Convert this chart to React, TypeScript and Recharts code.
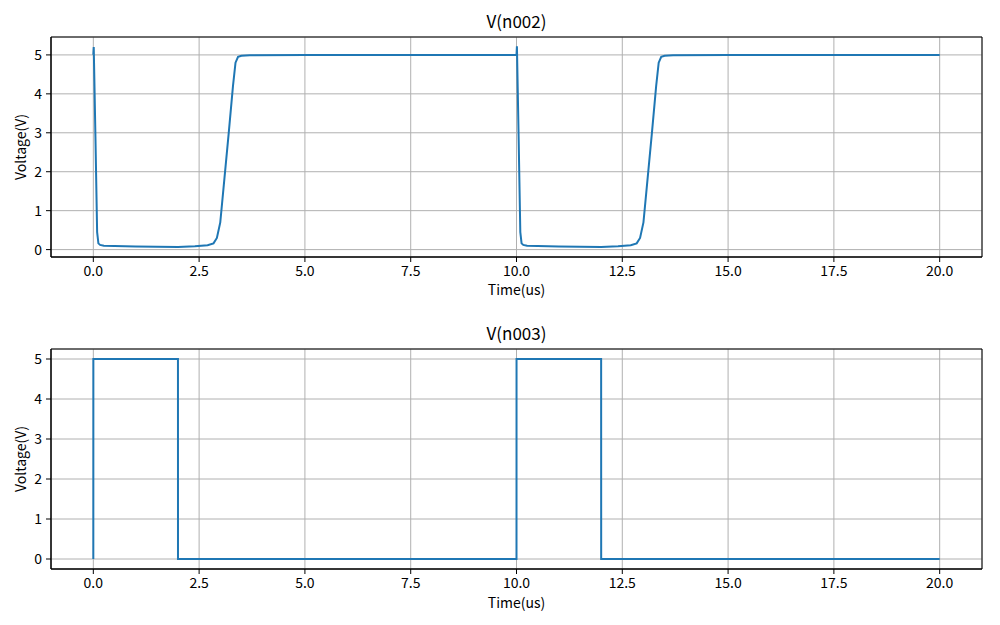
import React from 'react';
import {
  LineChart,
  Line,
  XAxis,
  YAxis,
  CartesianGrid,
  ReferenceArea
} from 'recharts';

// V(n002) samples, time in us
const timeN002 = [
  0, 0.01, 0.05, 0.09, 0.12, 0.16, 0.25, 0.5, 1.0, 1.5, 2.0, 2.4, 2.7, 2.84, 2.92, 3.0, 3.1, 3.2, 3.3, 3.36, 3.42, 3.5, 3.7, 5.0, 7.5, 9.99,
  10.0, 10.01, 10.05, 10.09, 10.12, 10.16, 10.25, 10.5, 11.0, 11.5, 12.0, 12.4, 12.7, 12.84, 12.92, 13.0, 13.1, 13.2, 13.3, 13.36, 13.42, 13.5, 13.7, 15.0, 17.5, 20.0
];
const voltN002 = [
  5.0, 5.2, 2.9, 0.45, 0.16, 0.12, 0.1, 0.09, 0.08, 0.075, 0.07, 0.085, 0.11, 0.16, 0.3, 0.7, 1.85, 3.0, 4.2, 4.8, 4.95, 4.98, 4.99, 5.0, 5.0, 5.0,
  5.0, 5.22, 2.9, 0.45, 0.16, 0.12, 0.1, 0.09, 0.08, 0.075, 0.07, 0.085, 0.11, 0.16, 0.3, 0.7, 1.85, 3.0, 4.2, 4.8, 4.95, 4.98, 4.99, 5.0, 5.0, 5.0
];

// V(n003) pulse samples
const timeN003 = [0, 0.001, 2.0, 2.001, 10.0, 10.001, 12.0, 12.001, 20.0];
const voltN003 = [0, 5, 5, 0, 0, 5, 5, 0, 0];

const xTicks = [0, 2.5, 5, 7.5, 10, 12.5, 15, 17.5, 20];
const yTicks = [0, 1, 2, 3, 4, 5];

const toRows = (t: number[], v: number[]) => t.map((x, i) => ({ t: x, v: v[i] }));

const FONT = '"Noto Sans CJK SC", "DejaVu Sans", sans-serif';

interface PanelProps {
  title: string;
  data: { t: number; v: number }[];
  yDomain: [number, number];
  top: number;
  height: number;
}

const Panel: React.FC<PanelProps> = ({ title, data, yDomain, top, height }) => {
  return (
    <div style={{ position: 'absolute', left: 0, top, width: 1000, height }}>
      <div
        style={{
          position: 'absolute',
          left: 51,
          width: 931,
          top: 10,
          textAlign: 'center',
          fontSize: 17,
          lineHeight: '22px',
          color: '#000'
        }}
      >
        {title}
      </div>
      <LineChart
        width={1000}
        height={height}
        data={data}
        margin={{ top: 37, right: 18, left: 0, bottom: 0 }}
      >
        <CartesianGrid stroke="#b0b0b0" strokeWidth={1} />
        <XAxis
          dataKey="t"
          type="number"
          domain={[-1, 21]}
          ticks={xTicks}
          allowDataOverflow
          height={height - 37 - 220}
          tickFormatter={(v: number) => v.toFixed(1)}
          tick={{ fill: '#000', fontSize: 14 }}
          tickLine={{ stroke: '#000' }}
          axisLine={{ stroke: '#000' }}
          tickSize={5}
          tickMargin={4}
          label={{ value: 'Time(us)', position: 'insideBottom', offset: 17, fill: '#000', fontSize: 14 }}
        />
        <YAxis
          type="number"
          domain={yDomain}
          ticks={yTicks}
          allowDataOverflow
          width={51}
          tick={{ fill: '#000', fontSize: 14 }}
          tickLine={{ stroke: '#000' }}
          axisLine={{ stroke: '#000' }}
          tickSize={5}
          tickMargin={4}
          label={{ value: 'Voltage(V)', angle: -90, position: 'center', dx: -4, fill: '#000', fontSize: 14 }}
        />
        <ReferenceArea
          x1={-1}
          x2={21}
          y1={yDomain[0]}
          y2={yDomain[1]}
          fill="none"
          stroke="#000"
          strokeWidth={1}
        />
        <Line
          type="linear"
          dataKey="v"
          stroke="#1f77b4"
          strokeWidth={2}
          dot={false}
          isAnimationActive={false}
        />
      </LineChart>
    </div>
  );
};

const App: React.FC = () => {
  return (
    <div
      style={{
        position: 'absolute',
        left: 0,
        top: 0,
        width: 1000,
        height: 625,
        background: '#fff',
        fontFamily: FONT
      }}
    >
      <Panel title="V(n002)" data={toRows(timeN002, voltN002)} yDomain={[-0.19, 5.46]} top={0} height={312} />
      <Panel title="V(n003)" data={toRows(timeN003, voltN003)} yDomain={[-0.25, 5.25]} top={312} height={313} />
    </div>
  );
};

export default App;
